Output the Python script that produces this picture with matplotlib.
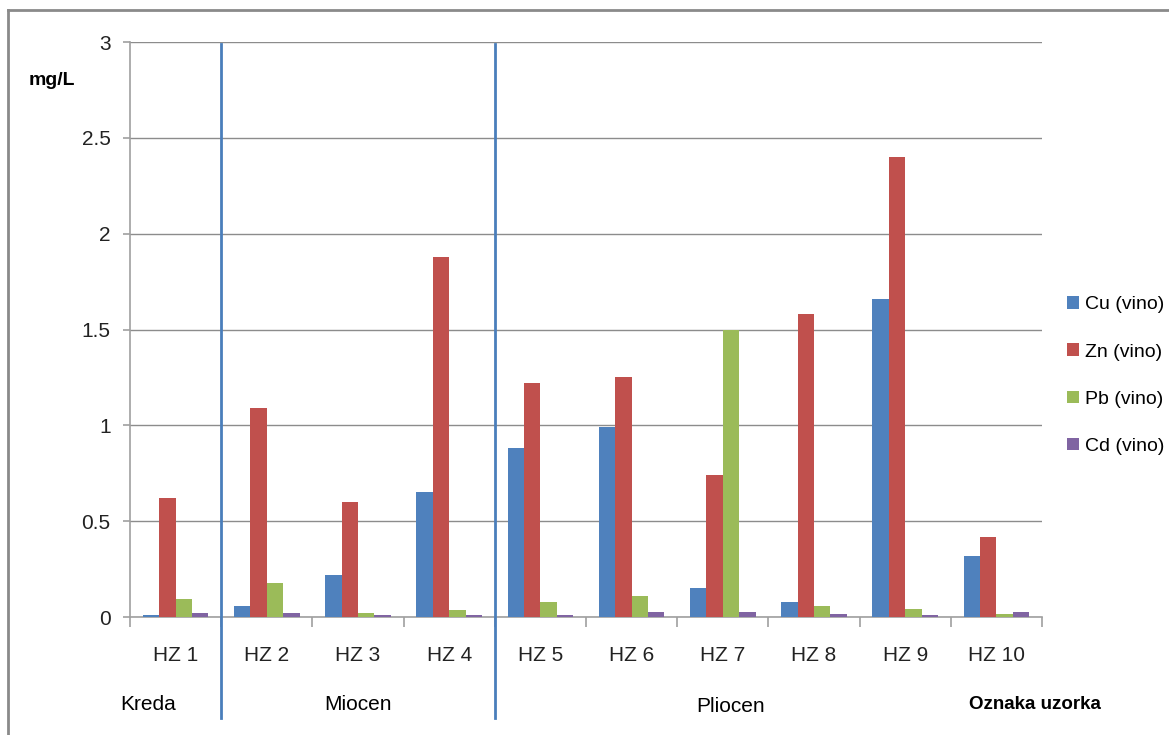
import numpy as np
import matplotlib.pyplot as plt
import matplotlib.transforms as mtransforms
from matplotlib.lines import Line2D

plt.rcParams['font.family'] = ['Liberation Sans', 'DejaVu Sans']

# sample labels and measured concentrations (mg/L)
samples = ['HZ 1', 'HZ 2', 'HZ 3', 'HZ 4', 'HZ 5', 'HZ 6', 'HZ 7', 'HZ 8', 'HZ 9', 'HZ 10']
cu = [0.01, 0.06, 0.22, 0.65, 0.88, 0.99, 0.15, 0.08, 1.66, 0.32]
zn = [0.62, 1.09, 0.60, 1.88, 1.22, 1.25, 0.74, 1.58, 2.40, 0.42]
pb = [0.095, 0.18, 0.02, 0.035, 0.08, 0.11, 1.50, 0.06, 0.04, 0.015]
cd = [0.02, 0.02, 0.008, 0.008, 0.008, 0.025, 0.025, 0.015, 0.008, 0.025]
series_names = ['Cu (vino)', 'Zn (vino)', 'Pb (vino)', 'Cd (vino)']
colors = ['#4F81BD', '#C0504D', '#9BBB59', '#8064A2']

# geological periods
periods = ['Kreda', 'Miocen', 'Pliocen']

fig = plt.figure(figsize=(11.69, 7.35), dpi=100)
ax = fig.add_axes([0.1112, 0.1605, 0.7802, 0.7823])

x = np.arange(len(samples))
w = 0.18
for i, (vals, name, c) in enumerate(zip([cu, zn, pb, cd], series_names, colors)):
    ax.bar(x + (i - 1.5) * w, vals, width=w, color=c, label=name, zorder=3)

ax.set_xlim(-0.5, len(samples) - 0.5)
ax.set_ylim(0, 3)
ax.set_yticks(np.arange(0, 3.01, 0.5))
ax.set_yticklabels(['0', '0.5', '1', '1.5', '2', '2.5', '3'])
ax.yaxis.grid(True, color='#8C8C8C', lw=1)
ax.set_axisbelow(True)

for s in ['top', 'right']:
    ax.spines[s].set_visible(False)
for s in ['left', 'bottom']:
    ax.spines[s].set_color('#A0A0A0')
    ax.spines[s].set_linewidth(1.2)

ax.set_xticks(x)
ax.set_xticklabels(samples)
ax.set_xticks(np.arange(-0.5, len(samples)), minor=True)
ax.tick_params(axis='x', which='major', length=0, pad=21, labelsize=15, colors='#222222')
ax.tick_params(axis='x', which='minor', length=7, color='#A0A0A0', width=1.2)
ax.tick_params(axis='y', length=5, color='#A0A0A0', width=1.2, pad=9, labelsize=15, labelcolor='#222222')

# y axis unit
fig.text(0.044, 0.89, 'mg/L', fontsize=14, fontweight='bold', ha='center', va='center')

# period separators
trans = mtransforms.blended_transform_factory(ax.transData, ax.transAxes)
for xb in [0.5, 3.5]:
    ax.add_line(Line2D([xb, xb], [-0.176, 0.997], transform=trans, color='#4A7EBB',
                       lw=2, clip_on=False, zorder=4))

# period labels and axis title
ax.text(-0.61, -0.152, periods[0], transform=trans, fontsize=15, ha='left', va='center')
ax.text(2.0, -0.152, periods[1], transform=trans, fontsize=15, ha='center', va='center')
ax.text(6.08, -0.155, periods[2], transform=trans, fontsize=15, ha='center', va='center')
ax.text(9.42, -0.152, 'Oznaka uzorka', transform=trans, fontsize=13.5, fontweight='bold',
        ha='center', va='center')

leg = fig.legend(loc='center left', bbox_to_anchor=(0.913, 0.489), frameon=False,
                 fontsize=14, handlelength=0.6, handleheight=0.6, handletextpad=0.3,
                 labelspacing=1.55, borderpad=0, borderaxespad=0)

# outer frame (top and left only, as in the original screenshot)
fig.add_artist(Line2D([0.0068, 1.0], [0.986, 0.986], transform=fig.transFigure,
                      color='#8A8A8A', lw=2))
fig.add_artist(Line2D([0.0068, 0.0068], [0.0, 0.986], transform=fig.transFigure,
                      color='#8A8A8A', lw=2))

fig.savefig('out.png', dpi=100)
